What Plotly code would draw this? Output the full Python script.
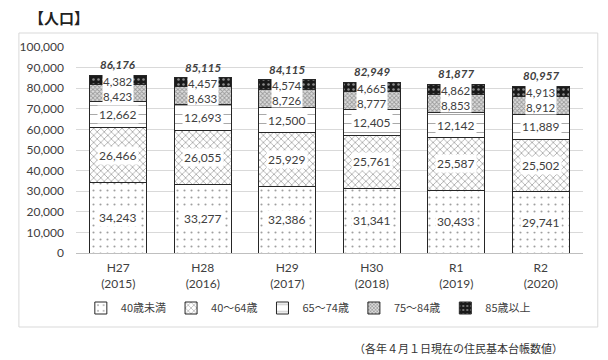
import plotly.graph_objects as go

categories = ["H27<br>(2015)", "H28<br>(2016)", "H29<br>(2017)", "H30<br>(2018)", "R1<br>(2019)", "R2<br>(2020)"]
series_names = ["40歳未満", "40～64歳", "65～74歳", "75～84歳", "85歳以上"]
under40 = [34243, 33277, 32386, 31341, 30433, 29741]
age40_64 = [26466, 26055, 25929, 25761, 25587, 25502]
age65_74 = [12662, 12693, 12500, 12405, 12142, 11889]
age75_84 = [8423, 8633, 8726, 8777, 8853, 8912]
age85_up = [4382, 4457, 4574, 4665, 4862, 4913]
totals = [86176, 85115, 84115, 82949, 81877, 80957]
y_ticks = list(range(0, 100001, 10000))

series = [under40, age40_64, age65_74, age75_84, age85_up]
patterns = [
    dict(shape=".", fgcolor="#404040", bgcolor="white", size=7, solidity=0.07),
    dict(shape="x", fgcolor="#505050", bgcolor="white", size=5, solidity=0.3),
    dict(shape="-", fgcolor="#404040", bgcolor="white", size=9, solidity=0.1),
    dict(shape="x", fgcolor="#555555", bgcolor="#dddddd", size=3, solidity=0.5),
    dict(shape=".", fgcolor="white", bgcolor="#1a1a1a", size=5, solidity=0.2),
]

fig = go.Figure()
for name, vals, pat in zip(series_names, series, patterns):
    fig.add_trace(go.Bar(
        x=categories, y=vals, name=name,
        marker=dict(color="white", pattern=pat, line=dict(color="#262626", width=1)),
        hoverinfo="skip",
    ))

num_font = dict(family="Lato", size=12, color="#404040")
annotations = []
for i, cat in enumerate(categories):
    base = 0
    for vals in series[:3]:
        v = vals[i]
        annotations.append(dict(
            x=cat, y=base + v / 2, xref="x", yref="y", text=f"{v:,}",
            showarrow=False, bgcolor="white", borderpad=1, font=num_font,
        ))
        base += v
    # the two small top segments share one label box
    top_span = age75_84[i] + age85_up[i]
    annotations.append(dict(
        x=cat, y=base + top_span / 2, xref="x", yref="y",
        text=f"{age85_up[i]:,}<br>{age75_84[i]:,}",
        showarrow=False, bgcolor="white", borderpad=0, font=dict(family="Lato", size=11.5, color="#404040"),
    ))
    annotations.append(dict(
        x=cat, y=totals[i], xref="x", yref="y", text=f"<b><i>{totals[i]:,}</i></b>",
        showarrow=False, yanchor="bottom", yshift=2,
        font=dict(family="Lato", size=11.5, color="#404040"),
    ))

# chart title
annotations.append(dict(
    x=(18 - 68) / 515, y=(253 - 17) / 206, xref="paper", yref="paper",
    xanchor="left", yanchor="middle", showarrow=False,
    text="<b>【人口】</b>",
    font=dict(family="Noto Sans CJK JP", size=15, color="#222222"),
))
# footnote
annotations.append(dict(
    x=(565 - 68) / 515, y=(253 - 348) / 206, xref="paper", yref="paper",
    xanchor="right", yanchor="middle", showarrow=False,
    text="（各年４月１日現在の住民基本台帳数値）",
    font=dict(family="Noto Sans CJK JP", size=11, color="#333333"),
))

fig.update_layout(
    width=608, height=360,
    margin=dict(l=60, r=33, t=39, b=115),
    paper_bgcolor="white", plot_bgcolor="white",
    barmode="stack", bargap=0.32,
    font=dict(family="Lato", size=11, color="#404040"),
    legend=dict(orientation="h", x=(304 - 68) / 515, xanchor="center", y=(253 - 308) / 206, yanchor="middle",
                font=dict(family="Noto Sans CJK JP", size=11, color="#404040"),
                itemwidth=30, traceorder="normal", itemclick=False),
    annotations=annotations,
    shapes=[dict(type="rect", xref="paper", yref="paper",
                 x0=(10 - 68) / 515, x1=(598 - 68) / 515,
                 y0=(253 - 327) / 206, y1=(253 - 33) / 206,
                 line=dict(color="#d9d9d9", width=1), fillcolor="rgba(0,0,0,0)", layer="below")],
    showlegend=True,
)
fig.update_xaxes(showline=True, linecolor="#bfbfbf", linewidth=1, ticks="", ticklabelstandoff=4,
                 tickfont=dict(family="Lato", size=12, color="#404040"), fixedrange=True)
fig.update_yaxes(range=[0, 100000], tickvals=y_ticks, tickformat=",", showgrid=True,
                 gridcolor="#d9d9d9", gridwidth=1, zeroline=False, showline=False,
                 tickfont=dict(family="Lato", size=12, color="#404040"), ticklabelstandoff=11,
                 fixedrange=True)

fig.write_html("out.html")
